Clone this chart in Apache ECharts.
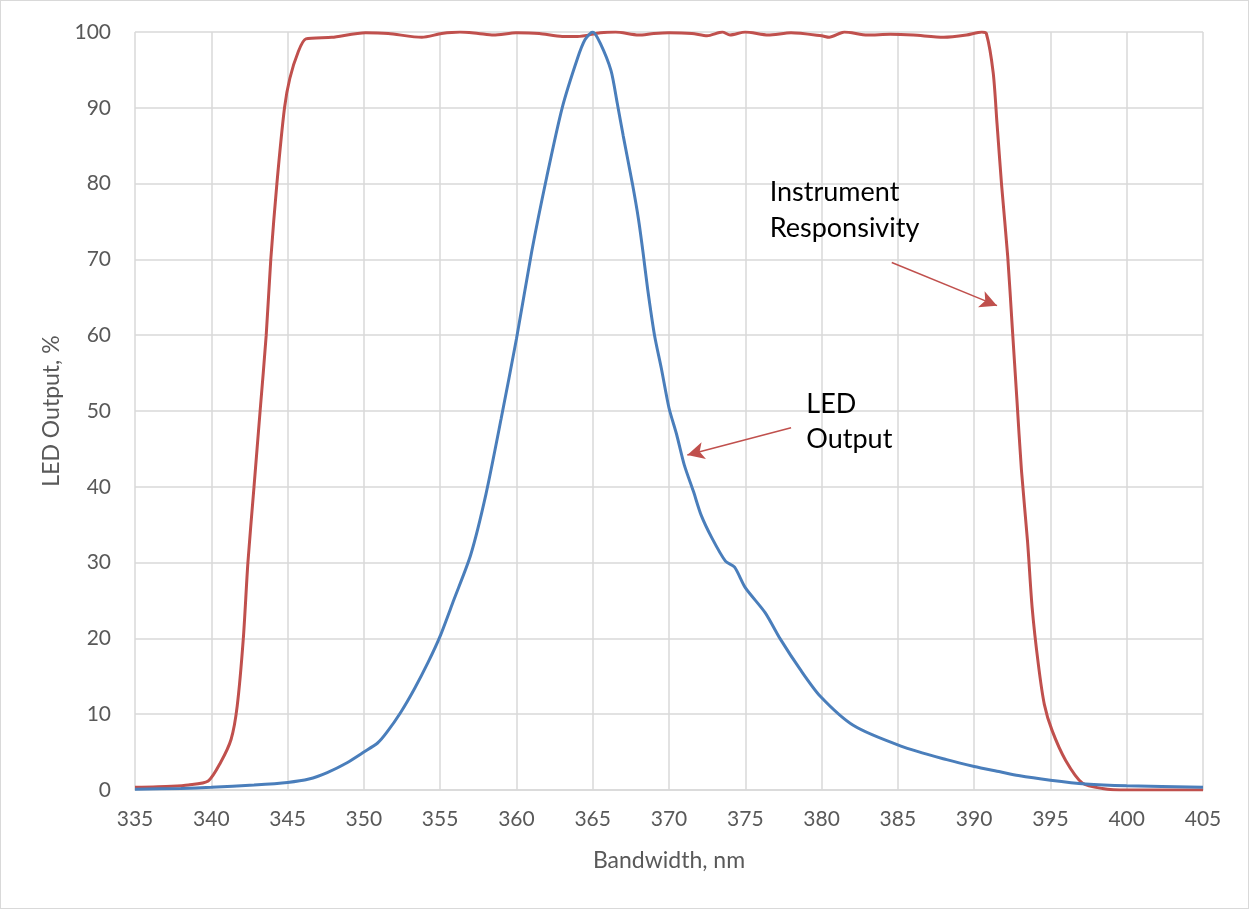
<!DOCTYPE html>
<html>
<head>
<meta charset="utf-8">
<script src="https://cdn.jsdelivr.net/npm/echarts@6/dist/echarts.min.js"></script>
<style>
  html, body { margin: 0; padding: 0; background: #fff; }
  #chart { width: 1247px; height: 907px; border: 1px solid #d9d9d9; }
</style>
</head>
<body>
<div id="chart"></div>
<script>
// LED output (blue)
const ledX = [335, 338, 340, 342.8, 345, 346.4, 347.6, 348.9, 350, 350.9, 351.5, 352.4, 353.3, 354.2, 355, 355.9,
  357, 358, 359, 360, 361, 362, 363, 364, 364.5, 365, 365.5, 366.2, 366.6, 367, 367.6, 368, 368.3, 368.6,
  369.05, 369.5, 370, 370.5, 371, 371.6, 372.1, 372.8, 373.7, 374.3, 375, 376.3, 377.3, 378.6, 379.9, 382.1,
  385.2, 388.2, 390, 391.7, 392.9, 395, 397.3, 400, 405];
const ledY = [0.1, 0.2, 0.35, 0.66, 1.0, 1.45, 2.3, 3.6, 5.0, 6.2, 7.6, 10.2, 13.3, 16.8, 20.3, 25.1,
  31, 39, 49, 59.5, 71, 81, 90, 96.5, 99, 100, 98.5, 94.9, 90.7, 86.3, 80, 75.3, 70.9, 66.1,
  60, 55.6, 50.4, 46.9, 42.9, 39.4, 36.3, 33.3, 30.2, 29.4, 26.7, 23.4, 19.9, 15.9, 12.4, 8.5,
  5.8, 4.0, 3.1, 2.4, 1.9, 1.3, 0.8, 0.55, 0.35];

// Instrument responsivity (red)
const respX = [335, 337.4, 338.5, 339.8, 340.6, 341.3, 341.7, 342.1, 342.4, 342.8, 343.2, 343.6, 343.9, 344.3,
  344.8, 345.15, 345.7, 346.2, 347.9, 350.1, 351.6, 353.8, 355.1, 356.3, 357.5, 358.5, 360, 361.5, 363, 364,
  365.5, 366.5, 368, 369, 370, 371.5, 372.5, 373.5, 374, 375, 376.5, 378, 380, 380.5, 381.5, 383, 384.5, 386,
  388, 389.5, 390.5, 390.8, 391.25, 391.5, 391.8, 392.2, 392.5, 392.8, 393.1, 393.5, 393.8, 394.2, 394.6,
  395.1, 396, 397.1, 398.4, 400, 405];
const respY = [0.35, 0.5, 0.66, 1.2, 3.6, 6.7, 11.1, 20, 30, 40, 50, 60, 70, 80,
  90, 93.9, 97.4, 99.1, 99.3, 99.9, 99.8, 99.3, 99.8, 100, 99.8, 99.6, 99.9, 99.8, 99.4, 99.4,
  99.9, 100, 99.6, 99.8, 99.9, 99.8, 99.5, 100, 99.6, 100, 99.6, 99.9, 99.5, 99.3, 100, 99.6, 99.7, 99.6,
  99.3, 99.6, 100, 99.8, 94.6, 87.9, 79.8, 70.4, 61, 51.6, 42.2, 32.8, 24.1, 16.7, 11.3,
  7.9, 3.9, 0.9, 0.2, 0.0, 0.0];

const xTicks = [335, 340, 345, 350, 355, 360, 365, 370, 375, 380, 385, 390, 395, 400, 405];
const yTicks = [0, 10, 20, 30, 40, 50, 60, 70, 80, 90, 100];

const zip = (xs, ys) => xs.map((x, i) => [x, ys[i]]);

const fontFamily = 'Lato, "Open Sans", sans-serif';
const textGray = '#595959';
const gridGray = '#d9d9d9';
const blue = '#4a7ebb';
const red = '#c0504d';

let chart = echarts.init(document.getElementById('chart'));
let option = {
    animation: false,
    grid: { left: 134, right: 45, top: 31, bottom: 118 },
    xAxis: {
        type: 'value',
        min: xTicks[0],
        max: xTicks[xTicks.length - 1],
        interval: 5,
        name: 'Bandwidth, nm',
        nameLocation: 'middle',
        nameGap: 59,
        nameTextStyle: { color: textGray, fontSize: 23, fontFamily: fontFamily },
        axisLine: { lineStyle: { color: gridGray, width: 1.5 } },
        axisTick: { show: false },
        axisLabel: { color: textGray, fontSize: 21, fontFamily: fontFamily, margin: 19 },
        splitLine: { show: true, lineStyle: { color: gridGray, width: 1.5 } }
    },
    yAxis: {
        type: 'value',
        min: yTicks[0],
        max: yTicks[yTicks.length - 1],
        interval: 10,
        name: 'LED Output, %',
        nameLocation: 'middle',
        nameGap: 71,
        nameTextStyle: { color: textGray, fontSize: 23, fontFamily: fontFamily },
        axisLine: { show: false },
        axisTick: { show: false },
        axisLabel: { color: textGray, fontSize: 21, fontFamily: fontFamily, margin: 24 },
        splitLine: { lineStyle: { color: gridGray, width: 1.5 } }
    },
    series: [
        {
            name: 'LED Output',
            type: 'line',
            data: zip(ledX, ledY),
            showSymbol: false,
            smooth: 0.25,
            lineStyle: { color: blue, width: 3 },
            z: 3,
            markLine: {
                silent: true,
                symbol: ['none', 'arrow'],
                symbolSize: [13, 17],
                label: { show: false },
                lineStyle: { color: red, width: 1.5, type: 'solid' },
                data: [[{ coord: [378.0, 47.8] }, { coord: [371.2, 44.2] }]]
            },
            markPoint: {
                silent: true,
                symbol: 'circle',
                symbolSize: 0,
                label: {
                    show: true,
                    position: 'right',
                    distance: 0,
                    formatter: 'LED\nOutput',
                    color: '#000',
                    fontSize: 27,
                    lineHeight: 35,
                    fontFamily: fontFamily
                },
                data: [{ coord: [379.0, 48.6] }]
            }
        },
        {
            name: 'Instrument Responsivity',
            type: 'line',
            data: zip(respX, respY),
            showSymbol: false,
            smooth: 0.25,
            lineStyle: { color: red, width: 3 },
            z: 2,
            markLine: {
                silent: true,
                symbol: ['none', 'arrow'],
                symbolSize: [13, 17],
                label: { show: false },
                lineStyle: { color: red, width: 1.5, type: 'solid' },
                data: [[{ coord: [384.6, 69.6] }, { coord: [391.5, 63.9] }]]
            },
            markPoint: {
                silent: true,
                symbol: 'circle',
                symbolSize: 0,
                label: {
                    show: true,
                    position: 'right',
                    distance: 0,
                    formatter: 'Instrument\nResponsivity',
                    color: '#000',
                    fontSize: 27,
                    lineHeight: 36,
                    fontFamily: fontFamily
                },
                data: [{ coord: [376.6, 76.5] }]
            }
        }
    ]
};
chart.setOption(option);
</script>
</body>
</html>
